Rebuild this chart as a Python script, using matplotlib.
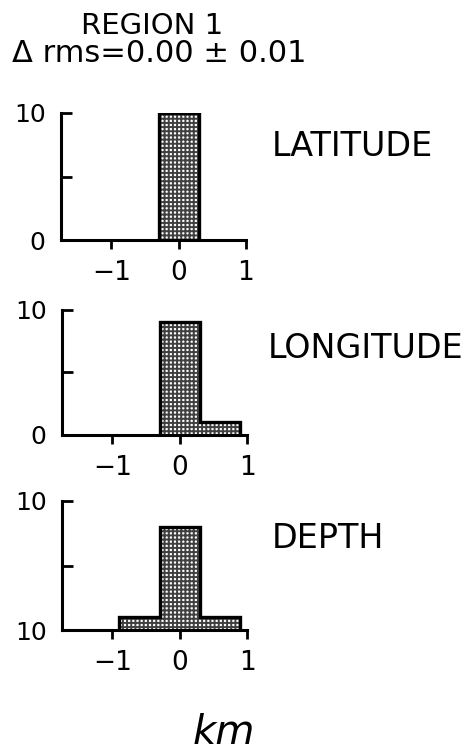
import numpy as np
import matplotlib
matplotlib.use('Agg')
import matplotlib.pyplot as plt

# histogram bins (km) and event counts for each component
lat_edges = [-0.3, 0.3]
lat_counts = [10]
lon_edges = [-0.3, 0.3, 0.9]
lon_counts = [9, 1]
dep_edges = [-0.9, -0.3, 0.3, 0.9]
dep_counts = [1, 8, 1]

names = ['LATITUDE', 'LONGITUDE', 'DEPTH']
ylabels = [['0', '', '10'], ['0', '', '10'], ['10', '', '10']]
xticks = [-1, 0, 1]

plt.rcParams['font.family'] = 'DejaVu Sans'
plt.rcParams['hatch.linewidth'] = 1.4

W, H = 472, 755
fig = plt.figure(figsize=(W / 100, H / 100), dpi=100)

# panel boxes in pixels: left, top, right, bottom
boxes = [(61, 113, 246, 240), (62, 310, 247, 435), (62, 501, 247, 630)]
label_pos = [(272, 146), (268, 349), (272, 539)]
data = [(lat_edges, lat_counts), (lon_edges, lon_counts), (dep_edges, dep_counts)]

for i in range(3):
    l, t, r, b = boxes[i]
    ax = fig.add_axes([l / W, 1 - b / H, (r - l) / W, (b - t) / H])
    edges, counts = data[i]
    ax.stairs(counts, edges, fill=True, hatch='++++', edgecolor='#404040',
              facecolor='white', linewidth=0)
    ax.stairs(counts, edges, fill=False, edgecolor='black', linewidth=2.4)
    ax.set_xlim(-1.75, 1.0)
    ax.set_ylim(0, 10)
    for s in ['top', 'right']:
        ax.spines[s].set_visible(False)
    for s in ['left', 'bottom']:
        ax.spines[s].set_linewidth(2.2)
    ax.set_yticks([0, 5, 10], ylabels[i])
    ax.set_xticks(xticks, ['\u22121', '0', '1'])
    ax.tick_params(axis='y', direction='in', length=8, width=2, pad=11,
                   labelsize=18)
    ax.tick_params(axis='x', direction='out', length=6.5, width=2, pad=8,
                   labelsize=19)
    fig.text(label_pos[i][0] / W, 1 - label_pos[i][1] / H, names[i],
             fontsize=24, va='center', ha='left')

fig.text(152 / W, 1 - 26 / H, 'REGION 1', fontsize=21, ha='center', va='center')
fig.text(159 / W, 1 - 53 / H, '\u0394 rms=0.00 \u00b1 0.01', fontsize=22,
         ha='center', va='center')
fig.text(224 / W, 1 - 733 / H, 'km', fontsize=29, style='italic',
         ha='center', va='center')

fig.savefig('out.png', dpi=100)
